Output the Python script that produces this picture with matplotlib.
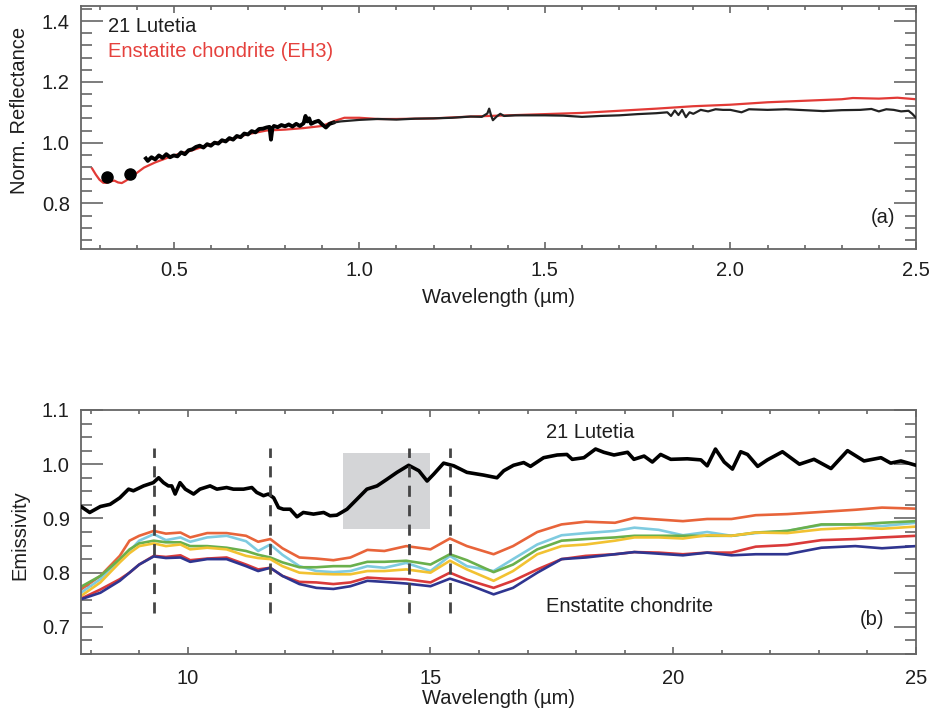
import matplotlib
matplotlib.use("Agg")
import matplotlib.pyplot as plt
from matplotlib.patches import Rectangle
from matplotlib.ticker import MultipleLocator

plt.rcParams['font.family'] = ['Liberation Sans', 'DejaVu Sans']

# ---------------- Panel (a) data ----------------
lut_dots_wl = [0.321, 0.381]
lut_dots_r = [0.886, 0.897]

lut_vis_wl = [0.425, 0.43, 0.44, 0.45, 0.46, 0.47, 0.48, 0.49, 0.50, 0.51, 0.52, 0.53, 0.54,
              0.55, 0.56, 0.57, 0.58, 0.59, 0.60, 0.61, 0.62, 0.63, 0.64, 0.65, 0.66,
              0.67, 0.68, 0.69, 0.70, 0.71, 0.72, 0.73, 0.74, 0.75, 0.758, 0.762, 0.766,
              0.77, 0.78, 0.79, 0.80, 0.81, 0.82, 0.83, 0.84, 0.85, 0.855, 0.86, 0.865,
              0.87, 0.88, 0.89, 0.90, 0.91, 0.92, 0.93]
lut_vis_r = [0.948, 0.940, 0.952, 0.945, 0.958, 0.950, 0.962, 0.952, 0.958, 0.955, 0.968, 0.962, 0.975,
             0.978, 0.986, 0.990, 0.984, 0.995, 0.990, 1.000, 0.997, 1.008, 1.004, 1.015, 1.010,
             1.022, 1.018, 1.030, 1.027, 1.038, 1.034, 1.045, 1.046, 1.050, 1.052, 1.010, 1.048,
             1.055, 1.051, 1.058, 1.054, 1.060, 1.053, 1.062, 1.055, 1.064, 1.088, 1.070, 1.080,
             1.062, 1.068, 1.072, 1.060, 1.050, 1.062, 1.066]

lut_nir_wl = [0.93, 0.95, 0.97, 1.00, 1.05, 1.10, 1.15, 1.20, 1.25, 1.30, 1.33, 1.345,
              1.35, 1.355, 1.36, 1.37, 1.38, 1.39, 1.42, 1.45, 1.50, 1.55, 1.60, 1.65,
              1.70, 1.75, 1.80, 1.83, 1.84, 1.85, 1.86, 1.87, 1.88, 1.89, 1.90, 1.92,
              1.94, 1.96, 1.98, 2.00, 2.03, 2.05, 2.10, 2.15, 2.20, 2.25, 2.30, 2.35,
              2.38, 2.40, 2.42, 2.44, 2.46, 2.48, 2.49, 2.50]
lut_nir_r = [1.066, 1.070, 1.072, 1.075, 1.078, 1.076, 1.079, 1.080, 1.082, 1.086, 1.085, 1.096,
             1.112, 1.090, 1.074, 1.086, 1.095, 1.088, 1.090, 1.090, 1.090, 1.089, 1.085, 1.088,
             1.090, 1.094, 1.097, 1.100, 1.088, 1.106, 1.091, 1.108, 1.084, 1.100, 1.095, 1.108,
             1.103, 1.110, 1.108, 1.108, 1.100, 1.110, 1.108, 1.110, 1.107, 1.104, 1.107, 1.108,
             1.111, 1.103, 1.110, 1.108, 1.103, 1.105, 1.095, 1.082]

eh3_wl = [0.28, 0.29, 0.30, 0.31, 0.32, 0.33, 0.34, 0.35, 0.36, 0.37, 0.38, 0.40,
          0.42, 0.45, 0.50, 0.55, 0.60, 0.65, 0.70, 0.75, 0.80, 0.85, 0.90, 0.93,
          0.96, 1.00, 1.05, 1.10, 1.20, 1.30, 1.40, 1.50, 1.60, 1.70, 1.80, 1.90,
          2.00, 2.10, 2.20, 2.30, 2.33, 2.40, 2.45, 2.50]
eh3_r = [0.915, 0.895, 0.878, 0.868, 0.868, 0.873, 0.875, 0.869, 0.867, 0.874, 0.882, 0.900,
         0.918, 0.935, 0.958, 0.975, 0.995, 1.010, 1.028, 1.040, 1.043, 1.048, 1.055, 1.070,
         1.082, 1.082, 1.078, 1.078, 1.080, 1.086, 1.090, 1.094, 1.098, 1.105, 1.112, 1.120,
         1.125, 1.133, 1.138, 1.143, 1.147, 1.145, 1.148, 1.143]

# ---------------- Panel (b) data ----------------
lut_ir_wl = [7.8, 7.98, 8.2, 8.4, 8.6, 8.78, 8.88, 9.09, 9.29, 9.4, 9.5, 9.6,
             9.67, 9.74, 9.84, 9.95, 10.12, 10.25, 10.46, 10.6, 10.8, 10.94, 11.15, 11.32,
             11.42, 11.56, 11.66, 11.77, 11.87, 11.97, 12.11, 12.25, 12.38, 12.59, 12.8, 12.93,
             13.07, 13.28, 13.48, 13.69, 13.9, 14.1, 14.31, 14.55, 14.76, 14.93, 15.07, 15.27,
             15.48, 15.75, 16.09, 16.37, 16.51, 16.71, 16.92, 17.06, 17.33, 17.61, 17.81, 17.92,
             18.16, 18.4, 18.57, 18.78, 19.06, 19.19, 19.4, 19.57, 19.74, 19.95, 20.29, 20.57,
             20.7, 20.87, 21.05, 21.22, 21.39, 21.53, 21.74, 21.94, 22.25, 22.6, 22.9, 23.25,
             23.59, 23.93, 24.28, 24.48, 24.69, 25.0]
lut_ir_e = [0.922, 0.911, 0.922, 0.926, 0.938, 0.954, 0.951, 0.960, 0.966, 0.975, 0.966, 0.960,
            0.960, 0.945, 0.966, 0.954, 0.945, 0.954, 0.960, 0.954, 0.957, 0.954, 0.954, 0.957,
            0.948, 0.942, 0.945, 0.938, 0.920, 0.917, 0.917, 0.903, 0.911, 0.908, 0.911, 0.905,
            0.906, 0.917, 0.935, 0.954, 0.960, 0.972, 0.985, 0.998, 0.988, 0.969, 0.982, 1.002,
            0.997, 0.985, 0.980, 0.975, 0.988, 0.998, 1.003, 0.996, 1.012, 1.017, 1.018, 1.009,
            1.012, 1.028, 1.022, 1.017, 1.022, 1.009, 1.015, 1.004, 1.018, 1.009, 1.010, 1.008,
            0.997, 1.028, 1.004, 0.991, 1.023, 1.018, 0.996, 1.008, 1.023, 1.000, 1.009, 0.992,
            1.025, 1.006, 1.012, 1.002, 1.006, 0.998]

ec_wl = [7.8, 8.2, 8.6, 8.8, 9.0, 9.3, 9.55, 9.85, 10.05, 10.4, 10.8, 11.2,
         11.45, 11.7, 11.95, 12.3, 12.65, 13.0, 13.35, 13.7, 14.05, 14.5, 15.0, 15.4,
         15.75, 16.3, 16.7, 17.2, 17.7, 18.2, 18.8, 19.2, 19.7, 20.2, 20.7, 21.2,
         21.7, 22.35, 23.05, 23.75, 24.3, 25.0]
ec_orange = [0.769, 0.794, 0.831, 0.859, 0.868, 0.877, 0.872, 0.874, 0.865, 0.873, 0.873, 0.868,
             0.857, 0.862, 0.845, 0.828, 0.826, 0.823, 0.828, 0.842, 0.840, 0.849, 0.843, 0.863,
             0.849, 0.834, 0.849, 0.875, 0.889, 0.894, 0.892, 0.901, 0.898, 0.895, 0.899, 0.899,
             0.906, 0.908, 0.912, 0.916, 0.920, 0.918]
ec_cyan = [0.763, 0.788, 0.825, 0.840, 0.859, 0.871, 0.860, 0.865, 0.857, 0.865, 0.868, 0.858,
           0.840, 0.852, 0.833, 0.812, 0.803, 0.801, 0.803, 0.812, 0.809, 0.818, 0.803, 0.831,
           0.812, 0.803, 0.825, 0.852, 0.869, 0.873, 0.877, 0.883, 0.879, 0.869, 0.875, 0.868,
           0.873, 0.877, 0.888, 0.889, 0.886, 0.892]
ec_green = [0.774, 0.794, 0.825, 0.843, 0.854, 0.859, 0.856, 0.856, 0.849, 0.849, 0.846, 0.840,
            0.833, 0.828, 0.819, 0.810, 0.810, 0.812, 0.812, 0.820, 0.820, 0.822, 0.815, 0.834,
            0.823, 0.801, 0.815, 0.843, 0.859, 0.862, 0.865, 0.868, 0.868, 0.868, 0.868, 0.868,
            0.874, 0.877, 0.889, 0.889, 0.892, 0.895]
ec_yellow = [0.757, 0.782, 0.819, 0.836, 0.849, 0.854, 0.849, 0.852, 0.843, 0.846, 0.843, 0.831,
             0.827, 0.825, 0.812, 0.800, 0.798, 0.797, 0.797, 0.803, 0.803, 0.806, 0.800, 0.822,
             0.806, 0.785, 0.803, 0.834, 0.849, 0.852, 0.859, 0.865, 0.865, 0.863, 0.869, 0.868,
             0.874, 0.873, 0.880, 0.883, 0.881, 0.885]
ec_red = [0.752, 0.769, 0.788, 0.800, 0.815, 0.831, 0.829, 0.832, 0.823, 0.826, 0.828, 0.815,
          0.806, 0.809, 0.794, 0.783, 0.782, 0.779, 0.782, 0.791, 0.789, 0.788, 0.782, 0.800,
          0.787, 0.772, 0.785, 0.806, 0.825, 0.831, 0.834, 0.838, 0.837, 0.834, 0.837, 0.837,
          0.848, 0.851, 0.860, 0.862, 0.865, 0.868]
ec_navy = [0.751, 0.763, 0.785, 0.800, 0.815, 0.830, 0.827, 0.828, 0.820, 0.825, 0.825, 0.812,
           0.803, 0.809, 0.794, 0.779, 0.772, 0.770, 0.775, 0.785, 0.783, 0.780, 0.775, 0.789,
           0.779, 0.760, 0.772, 0.800, 0.825, 0.828, 0.834, 0.838, 0.835, 0.832, 0.837, 0.832,
           0.834, 0.834, 0.846, 0.849, 0.845, 0.849]

ec_series = [ec_orange, ec_cyan, ec_green, ec_yellow, ec_red, ec_navy]
ec_colors = ['#e8643a', '#7fcbe0', '#6ab04c', '#f2c232', '#d93a3a', '#2f3590']

band_wl = [9.3, 11.7, 14.55, 15.4]
box_wl = [13.2, 15.0]
box_e = [0.88, 1.02]

TXT = '#1e1e1e'
SPINE = '#666666'
FS = 14.5

fig = plt.figure(figsize=(9.48, 7.14), dpi=100)
axA = fig.add_axes([0.0854, 0.6513, 0.8808, 0.3403])
axB = fig.add_axes([0.0854, 0.0840, 0.8808, 0.3418])

def style(ax, xpad):
    for s in ax.spines.values():
        s.set_color(SPINE)
        s.set_linewidth(1.3)
    ax.tick_params(axis='both', which='both', direction='in', top=True, right=True,
                   colors=SPINE, labelcolor=TXT, labelsize=FS)
    ax.tick_params(axis='y', which='major', length=16, width=1.2, pad=8)
    ax.tick_params(axis='y', which='minor', length=8, width=1.2)
    ax.tick_params(axis='x', which='major', length=5, width=1.2, pad=xpad)
    ax.tick_params(axis='x', which='minor', length=3, width=1.2)

# ----- Panel (a)
axA.plot(eh3_wl, eh3_r, color='#e23a36', lw=1.6, zorder=2)
axA.plot(lut_vis_wl, lut_vis_r, color='black', lw=2.8, zorder=3)
axA.plot(lut_nir_wl, lut_nir_r, color='#222222', lw=1.6, zorder=3)
axA.plot(lut_dots_wl, lut_dots_r, 'o', color='black', ms=8, zorder=4)
axA.set_xlim(0.25, 2.5)
axA.set_ylim(0.65, 1.45)
axA.xaxis.set_major_locator(MultipleLocator(0.5))
axA.xaxis.set_minor_locator(MultipleLocator(0.1))
axA.yaxis.set_major_locator(MultipleLocator(0.2))
axA.yaxis.set_minor_locator(MultipleLocator(0.04))
axA.xaxis.set_major_formatter(plt.FuncFormatter(lambda v, p: f"{v:.1f}"))
axA.yaxis.set_major_formatter(plt.FuncFormatter(lambda v, p: f"{v:.1f}"))
style(axA, 9)
axA.text(0.322, 1.384, '21 Lutetia', color=TXT, fontsize=FS, va='center', ha='left')
axA.text(0.322, 1.299, 'Enstatite chondrite (EH3)', color='#e5413d', fontsize=FS,
         va='center', ha='left')
axA.text(2.41, 0.752, '(a)', color=TXT, fontsize=FS, va='center', ha='center')

# ----- Panel (b)
axB.add_patch(Rectangle((box_wl[0], box_e[0]), box_wl[1] - box_wl[0], box_e[1] - box_e[0],
                        facecolor='#d4d5d7', edgecolor='none', zorder=1))
for s, c in zip(ec_series, ec_colors):
    axB.plot(ec_wl, s, color=c, lw=1.9, zorder=2)
axB.plot(lut_ir_wl, lut_ir_e, color='black', lw=2.6, zorder=3)
for b in band_wl:
    axB.plot([b, b], [0.725, 1.03], color='#444444', lw=2.0, ls=(0, (4, 3)), zorder=4)
axB.set_xlim(7.8, 25)
axB.set_ylim(0.65, 1.1)
axB.xaxis.set_major_locator(MultipleLocator(5))
axB.xaxis.set_minor_locator(MultipleLocator(1))
axB.yaxis.set_major_locator(MultipleLocator(0.1))
axB.yaxis.set_minor_locator(MultipleLocator(0.025))
axB.yaxis.set_major_formatter(plt.FuncFormatter(lambda v, p: f"{v:.1f}"))
style(axB, 11)
axB.text(17.37, 1.059, '21 Lutetia', color=TXT, fontsize=FS, va='center', ha='left')
axB.text(17.37, 0.738, 'Enstatite chondrite', color=TXT, fontsize=FS, va='center', ha='left')
axB.text(24.1, 0.713, '(b)', color=TXT, fontsize=FS, va='center', ha='center')

fig.text(498 / 948, 1 - 297 / 714, 'Wavelength (µm)', color=TXT, fontsize=FS,
         ha='center', va='center')
fig.text(498 / 948, 1 - 698 / 714, 'Wavelength (µm)', color=TXT, fontsize=FS,
         ha='center', va='center')
fig.text(20 / 948, 1 - 110 / 714, 'Norm. Reflectance', color=TXT, fontsize=FS,
         ha='center', va='center', rotation=90)
fig.text(20 / 948, 1 - 535 / 714, 'Emissivity', color=TXT, fontsize=FS,
         ha='center', va='center', rotation=90)

fig.savefig('out.png', dpi=100)
